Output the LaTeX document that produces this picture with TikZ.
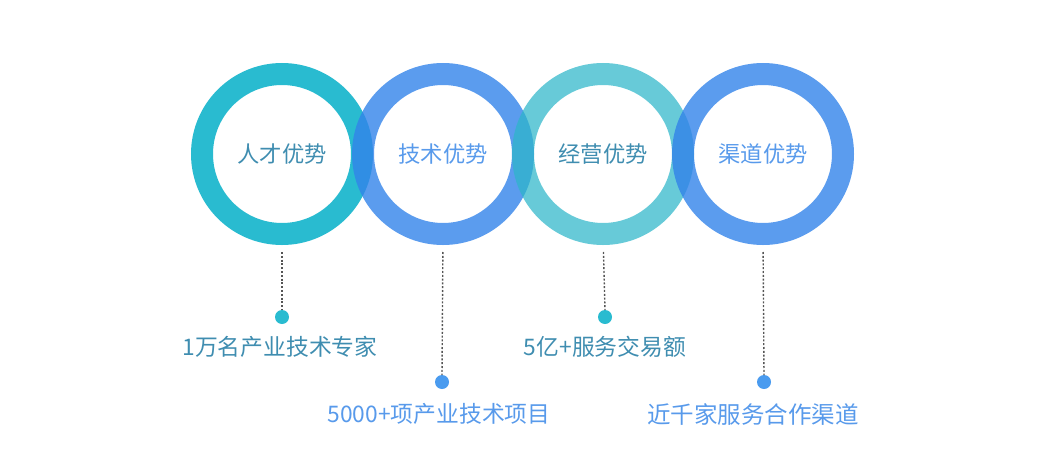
\documentclass[tikz,border=0pt]{standalone}
\usepackage{fontspec}
\setmainfont{Noto Sans CJK SC}
\definecolor{ringA}{RGB}{41,187,208}
\definecolor{ringB}{RGB}{50,131,234}
\definecolor{ringC}{RGB}{44,182,201}
\definecolor{txtA}{RGB}{63,141,176}
\definecolor{txtB}{RGB}{88,154,235}
\definecolor{dotA}{RGB}{41,187,208}
\definecolor{dotB}{RGB}{74,155,239}
\definecolor{lineg}{RGB}{85,85,85}
\begin{document}
\begin{tikzpicture}[x=1pt,y=-1pt,
  ring/.style={circle,draw,line width=22pt,minimum size=160pt,inner sep=0pt,outer sep=0pt,
    font=\fontsize{22.3pt}{26pt}\selectfont},
  lab/.style={inner sep=0pt,font=\fontsize{22.8pt}{26pt}\selectfont},
  dotnode/.style={circle,minimum size=14pt,inner sep=0pt,outer sep=0pt},
  dotline/.style={lineg,line width=1.4pt,dash pattern=on 2pt off 1.8pt,shorten <=18pt}]
\useasboundingbox (0,0) rectangle (1045,450);
\node[ring,draw=ringA,text=txtA] (r1) at (282,154) {人才优势};
\node[ring,draw=ringB,draw opacity=0.8,text=txtB] (r2) at (443,154) {技术优势};
\node[ring,draw=ringC,draw opacity=0.72,text=txtA] (r3) at (603,154) {经营优势};
\node[ring,draw=ringB,draw opacity=0.8,text=txtB] (r4) at (763,154) {渠道优势};
\node[dotnode,fill=dotA] (d1) at (282,317) {};
\node[dotnode,fill=dotB] (d2) at (442,382) {};
\node[dotnode,fill=dotA] (d3) at (605,317) {};
\node[dotnode,fill=dotB] (d4) at (764,382) {};
\draw[dotline] (r1.south) -- (d1.north);
\draw[dotline] (r2.south) -- (d2.north);
\draw[dotline] (r3.south) -- (d3.north);
\draw[dotline] (r4.south) -- (d4.north);
\node[lab,text=txtA] (l1) at (280,347) {1万名产业技术专家};
\node[lab,text=txtB] (l2) at (439,414) {5000+项产业技术项目};
\node[lab,text=txtA] (l3) at (605,347) {5亿+服务交易额};
\node[lab,text=txtB,font=\fontsize{23.5pt}{26pt}\selectfont] (l4) at (753,414) {近千家服务合作渠道};
\end{tikzpicture}
\end{document}
